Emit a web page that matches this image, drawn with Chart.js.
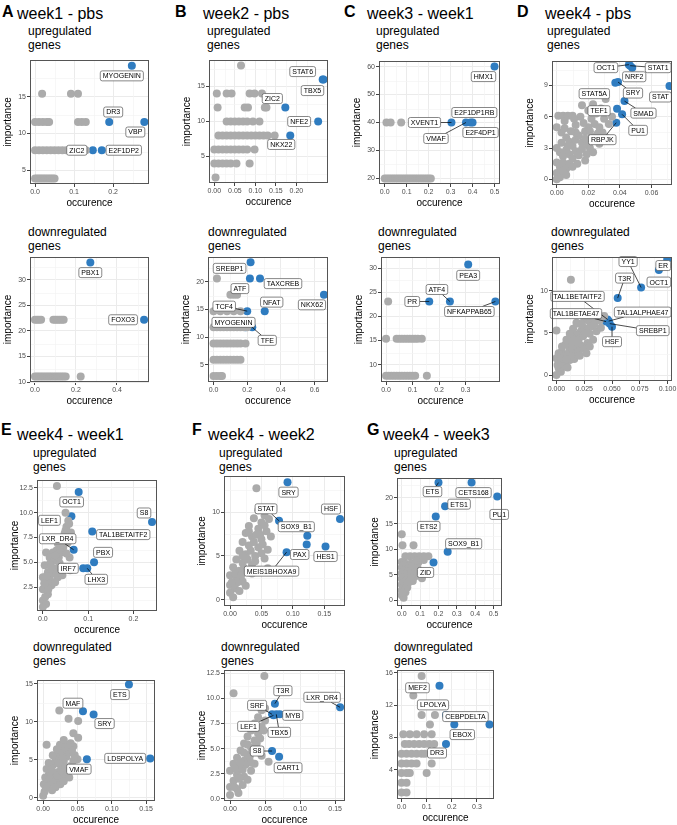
<!DOCTYPE html>
<html>
<head>
<meta charset="utf-8">
<title>importance vs occurence</title>
<script src="https://cdn.jsdelivr.net/npm/chart.js@4.4.1/dist/chart.umd.min.js"></script>
<style>
  body { margin: 0; background: #fff; }
  #fig { position: relative; width: 677px; height: 825px; overflow: hidden; font-family: "Liberation Sans", Arial, sans-serif; color: #000; }
  #fig div { position: absolute; white-space: nowrap; }
  .tag { font-size: 16px; font-weight: bold; line-height: 16px; }
  .ttl { font-size: 16px; line-height: 18px; }
  .sub { font-size: 12px; line-height: 13.5px; }
  canvas { position: absolute; }
</style>
</head>
<body>
<div id="fig"></div>
<script>
// ---------- dados ----------
// pontos cinza = [occurence, importance]; destaques = [nome, occurence, importance]

// A - week1 - pbs
const aUpGrey = [[0,3.85],[0.005,3.85],[0.01,3.85],[0.015,3.85],[0.02,3.85],[0.025,3.85],[0.03,3.85],[0.035,3.85],[0.04,3.85],[0.045,3.85],[0.05,3.85],
  [0,7.7],[0.01,7.7],[0.02,7.7],[0.03,7.7],[0.04,7.7],[0.05,7.7],[0.06,7.7],[0.07,7.7],[0.08,7.7],[0.09,7.7],[0.1,7.7],[0.11,7.7],[0.12,7.7],[0.13,7.7],
  [0,11.55],[0.01,11.55],[0.02,11.55],[0.03,11.55],[0.036,11.55],[0.11,11.55],[0.12,11.55],[0.13,11.55],
  [0.018,15.4],[0.092,15.4],[0.11,15.4]];
const aUpHits = [['MYOGENIN',0.248,19.2],['DR3',0.19,11.55],['VBP',0.28,11.55],['ZIC2',0.148,7.7],['E2F1DP2',0.171,7.7]];
const aDnGrey = [[0,22.2],[0.01,22.2],[0.02,22.2],[0.03,22.2],[0.09,22.2],[0.1,22.2],[0.11,22.2],[0.12,22.2],[0.13,22.2],[0.14,22.2],
  [0,11.1],[0.01,11.1],[0.02,11.1],[0.03,11.1],[0.04,11.1],[0.05,11.1],[0.06,11.1],[0.07,11.1],[0.08,11.1],[0.09,11.1],[0.1,11.1],[0.11,11.1],[0.12,11.1],[0.13,11.1],[0.14,11.1],[0.15,11.1],[0.223,11.1]];
const aDnHits = [['PBX1',0.27,33.4],['FOXO3',0.532,22.2]];

// B - week2 - pbs
const bUpGrey = [[0.003,2],
  [0,4],[0.01,4],[0.02,4],[0.03,4],[0.04,4],[0.054,4],[0.086,4],
  [0,6],[0.01,6],[0.02,6],[0.03,6],[0.04,6],[0.05,6],[0.06,6],[0.07,6],[0.08,6],[0.098,6],
  [0.01,8],[0.02,8],[0.03,8],[0.04,8],[0.05,8],[0.06,8],[0.07,8],[0.08,8],[0.09,8],[0.1,8],[0.11,8],[0.12,8],[0.13,8],[0.147,8],
  [0.03,10],[0.04,10],[0.05,10],[0.06,10],[0.07,10],[0.08,10],[0.094,10],[0.11,10],
  [0.008,12],[0.074,12],[0.082,12],[0.123,12],[0.127,12],
  [0.006,14],[0.03,14],[0.042,14],[0.086,14],[0.098,14],[0.116,14],
  [0.065,18]];
const bUpHits = [['STAT6',0.264,16],['TBX5',0.266,16],['ZIC2',0.173,12],['NFE2',0.253,10],['NKX22',0.185,8]];
const bDnGrey = [[0.02,20.59],[0.1,17.65],[0.12,17.65],[0.14,17.65],
  [0,14.7],[0.04,14.7],[0.08,14.7],[0.12,14.7],[0.16,14.7],
  [0,11.76],[0.02,11.76],[0.04,11.76],[0.06,11.76],[0.08,11.76],[0.1,11.76],[0.12,11.76],[0.14,11.76],[0.16,11.76],[0.18,11.76],[0.2,11.76],
  [0,8.82],[0.02,8.82],[0.04,8.82],[0.06,8.82],[0.08,8.82],[0.1,8.82],[0.12,8.82],[0.14,8.82],[0.16,8.82],[0.19,8.82],
  [0,5.88],[0.02,5.88],[0.04,5.88],[0.06,5.88],[0.08,5.88],[0.1,5.88],[0.12,5.88],[0.14,5.88],[0.16,5.88],
  [0,2.94],[0.02,2.94],[0.04,2.94],[0.05,2.94]];
const bDnHits = [['SREBP1',0.22,23.53],['ATF',0.216,20.59],['TAXCREB',0.276,20.59],['NKX62',0.656,17.65],['TCF4',0.2,14.7],['NFAT',0.304,14.7],['MYOGENIN',0.19,11.76],['TFE',0.23,11.76]];

// C - week3 - week1
const cUpGrey = [[0.008,40],[0.027,40],[0.075,40],[0.169,40],
  [0,20],[0.01,20],[0.02,20],[0.03,20],[0.04,20],[0.05,20],[0.06,20],[0.07,20],[0.08,20],[0.09,20],[0.1,20],[0.11,20],[0.12,20],[0.13,20],[0.14,20],[0.15,20],[0.16,20],[0.17,20],[0.18,20],[0.19,20],[0.2,20],[0.21,20]];
const cUpHits = [['HMX1',0.5,60],['XVENT1',0.304,40],['VMAF',0.37,40],['E2F1DP1RB',0.39,40],['E2F4DP1',0.4,40]];
const cDnGrey = [[0.008,23.08],
  [0,15.38],[0.04,15.38],[0.05,15.38],[0.06,15.38],[0.07,15.38],[0.08,15.38],[0.09,15.38],[0.1,15.38],[0.11,15.38],[0.12,15.38],[0.135,15.38],
  [0,7.69],[0.01,7.69],[0.02,7.69],[0.03,7.69],[0.04,7.69],[0.05,7.69],[0.06,7.69],[0.07,7.69],[0.08,7.69],[0.09,7.69],[0.1,7.69],[0.11,7.69],[0.154,7.69]];
const cDnHits = [['PEA3',0.31,30.77],['ATF4',0.241,23.08],['PR',0.163,23.08],['NFKAPPAB65',0.4125,23.08]];

// D - week4 - pbs
const dUpGrey = [[0.001,6.1],[0.004,6.1],[0.007,6.1],[0.01,6.1],[0.016,7.1],[0.031,7.7],[0.028,6.8],[0.025,6.3],[0.022,5.8],[0.024,5.3],[0.02,5.0],[0.018,4.6],
  [0.027,5.0],[0.03,5.8],[0.033,5.3],[0.029,4.5],[0,5.0],[0.003,4.5],[0.006,4.0],[0.008,3.6],[0.01,3.2],[0.012,3.8],[0.014,4.2],[0.016,3.5],[0.018,3.9],
  [0.02,3.3],[0.022,4.1],[0.025,3.8],[0,3.0],[0.002,2.6],[0.004,2.2],[0.006,2.8],[0.008,2.4],[0.01,2.0],[0.012,2.7],[0.014,2.3],[0.016,2.9],[0,1.6],
  [0.002,1.2],[0.004,1.6],[0.006,1.0],[0.008,1.5],[0.01,1.2],[0,0.6],[0.002,0.2],[0.004,0.8],[0,0],[0.006,0.4],[0.003,3.5],[0.005,4.9],[0.012,5.2],[0.035,6.0],
  [0.015,6.0],[0.012,4.5],[0.009,4.6],[0.017,5.4],[0.021,4.6],[0.026,4.4],[0.019,2.4],[0.021,3.0],[0.013,1.5],[0.007,3.2],[0.011,5.8],[0.005,5.6],
  [0.02,6.6],[0.023,7.2],[0.018,1.8],[0.031,4.0],[0.027,3.4],[0.023,2.6]];
const dUpHits = [['OCT1',0.0457,11.0],['STAT1',0.0465,10.9],['NRF2',0.0478,10.7],['STAT5A',0.0371,9.27],['SRY',0.0388,9.33],['STAT',0.0714,8.95],
  ['SMAD',0.0429,7.5],['TEF1',0.0382,6.77],['PU1',0.0414,6.23],['RBPJK',0.0377,5.43]];
const dDnGrey = [[0,5.3],[0.013,11.3],[0.02,6.1],[0.025,6.6],[0.028,7.0],[0.03,6.3],[0.035,6.5],[0.038,7.1],[0.032,5.8],[0.027,5.5],[0.022,5.2],[0.018,4.8],
  [0.015,4.3],[0.012,4.9],[0.02,4.2],[0.024,4.6],[0.03,4.9],[0.036,5.2],[0.04,5.6],[0.033,4.2],[0.028,3.8],[0.022,3.5],[0.017,3.2],[0.012,3.0],[0.008,3.6],
  [0.005,2.8],[0.01,2.4],[0.015,2.6],[0.02,2.8],[0.025,3.1],[0.03,3.4],[0,2.0],[0.003,1.6],[0.006,2.2],[0.008,1.4],[0.012,1.8],[0.016,1.9],[0.002,0.8],
  [0.004,0.4],[0,0],[0.006,1.0],[0.01,0.9],[0.002,2.6],[0.015,5.5],[0.018,6.2],[0.043,7.0],
  [0.009,4.2],[0.014,3.7],[0.019,3.9],[0.026,5.0],[0.034,6.0],[0.039,6.5],[0.005,3.4],[0.013,2.2],[0.021,2.3],[0.027,2.6],[0.004,2.0],[0.009,1.9],
  [0.001,1.2],[0.023,6.0],[0.031,7.4]];
const dDnHits = [['ER',0.0997,13.7],['OCT1',0.0922,12.45],['YY1',0.0762,10.38],['T3R',0.0551,9.13],['TAL1BETAITF2',0.046,6.6],['TAL1ALPHAE47',0.047,6.4],
  ['TAL1BETAE47',0.0446,6.34],['SREBP1',0.048,6.1],['HSF',0.05,5.74]];

// E - week4 - week1
const eUpGrey = [[0.031,12.7],[0.056,9.2],[0.052,8.6],[0.048,7.9],[0.041,7.4],[0.033,6.9],[0.03,6.2],[0.022,6.0],[0.007,6.0],[0.015,5.5],[0.026,5.2],[0.037,4.9],
  [0.048,4.5],[0.059,5.5],[0.004,4.7],[0.011,4.0],[0.022,3.85],[0.033,3.5],[0,3.5],[0.007,2.8],[0.019,2.7],[0,2.3],[0.011,1.8],[0,1.15],[0.007,0.8],[0,0.5],
  [0.043,3.7],[0.06,4.2],[0.045,6.5],[0.055,7.0],[0.062,8.0],[0.05,10.0],[0.015,4.8],[0.025,4.4],
  [0.005,1.5],[0.012,2.3],[0.016,3.2],[0.027,3.0],[0.03,4.0],[0.035,5.5],[0.04,6.0],[0.018,4.5],[0.008,3.6],[0.003,2.9],[0.028,5.7],[0.038,6.7],
  [0.046,7.3],[0.05,8.2],[0.058,8.9],[0.052,5.9]];
const eUpHits = [['OCT1',0.079,12.1],['LEF1',0.063,9.64],['TAL1BETAITF2',0.109,8.1],['S8',0.241,9.07],['LXR_DR4',0.068,6.27],['PBX',0.113,5.0],['IRF7',0.089,4.4],['LHX3',0.098,4.4]];
const eDnGrey = [[0.0235,11.5],[0.037,10.4],[0.051,10.1],[0.044,8.5],[0.051,7.9],[0.005,7.0],[0.0245,7.0],[0.044,6.8],[0,0.3],[0.002,0.8],[0.004,1.3],[0.001,1.8],
  [0.006,2.2],[0.003,2.7],[0.008,3.0],[0.01,3.4],[0.005,3.8],[0.012,4.0],[0.015,4.4],[0.008,4.6],[0.018,4.9],[0.02,5.3],[0.014,5.6],[0.024,5.8],[0.028,6.1],
  [0.02,6.4],[0.032,6.5],[0.012,2.0],[0.018,2.6],[0.022,3.4],[0.026,4.2],[0.03,4.8],[0.034,5.4],[0.038,6.0],[0.016,3.2],[0.024,2.4],[0.03,3.0],[0.036,3.6],
  [0.04,4.2],[0.05,5.1],[0.038,2.7],[0.04,7.2],
  [0.006,1.5],[0.01,2.6],[0.015,2.0],[0.02,3.0],[0.026,3.6],[0.032,4.0],[0.028,5.2],[0.022,4.6],[0.012,3.7],[0.044,4.9],[0.046,5.6],[0.042,6.2],
  [0.035,7.0],[0.03,7.6],[0.018,1.4],[0.025,1.8],[0.013,1.0],[0.03,2.2]];
const eDnHits = [['ETS',0.125,14.9],['MAF',0.058,11.4],['SRY',0.0735,10.96],['VMAF',0.0637,5.1],['LDSPOLYA',0.156,5.2]];

// F - week4 - week2
const fUpGrey = [[0.042,12.7],[0.045,10.2],[0.055,9.6],[0.062,9.2],[0.038,9.3],[0.05,8.8],[0.03,8.4],[0.045,8.1],[0.058,7.8],[0.065,7.2],[0.025,7.6],[0.035,7.2],
  [0.05,6.9],[0.02,6.6],[0.03,6.2],[0.045,6.0],[0.06,5.7],[0.015,5.6],[0.025,5.2],[0.04,5.0],[0.055,4.7],[0.01,4.6],[0.02,4.2],[0.035,4.0],[0.005,3.7],
  [0.015,3.3],[0.03,3.1],[0,2.8],[0.01,2.4],[0.02,2.1],[0,1.7],[0.008,1.3],[0,0.8],[0.005,0.3],[0.06,3.6],[0.045,3.4],[0.025,1.6],
  [0.008,3.0],[0.012,2.0],[0.018,2.8],[0.022,3.6],[0.028,4.6],[0.033,5.6],[0.038,6.6],[0.042,7.4],[0.048,7.4],[0.052,6.3],[0.04,4.4],[0.05,5.3],
  [0.035,3.0],[0.015,1.0],[0.003,2.0],[0.02,5.0],[0.03,7.8],[0.055,8.5]];
const fUpHits = [['SRY',0.0915,13.4],['STAT',0.078,9.0],['HSF',0.175,9.2],['SOX9_B1',0.123,7.3],['PAX',0.122,6.3],['HES1',0.152,6.07],['MEIS1BHOXA9',0.09,5.43]];
const fDnGrey = [[0.049,12.2],[0.005,10.5],[0.045,8.8],[0.04,8.1],[0.05,7.8],[0.035,7.5],[0.045,7.2],[0.03,6.8],[0.04,6.5],[0.025,6.2],[0.035,5.8],[0.02,5.5],
  [0.03,5.1],[0.015,4.8],[0.025,4.4],[0.01,4.1],[0.02,3.8],[0.005,3.5],[0.015,3.1],[0,2.8],[0.01,2.4],[0.02,2.2],[0.005,1.8],[0,1.2],[0.01,1.0],[0,0.4],
  [0.055,3.7],[0.03,2.8],[0.035,3.5],[0.045,4.3],[0.018,1.4],[0.025,1.9],[0.012,0.6],
  [0.008,3.0],[0.013,2.0],[0.018,2.9],[0.022,3.4],[0.028,4.2],[0.033,4.9],[0.038,5.5],[0.043,6.0],[0.048,6.8],[0.05,9.0],[0.03,3.6],[0.04,4.8],
  [0.006,1.2],[0.015,3.6],[0.02,4.6],[0.025,5.4]];
const fDnHits = [['T3R',0.064,9.46],['LXR_DR4',0.157,9.1],['SRF',0.06,8.4],['LEF1',0.062,8.3],['TBX5',0.066,8.4],['MYB',0.071,8.4],['S8',0.06,4.76],['CART1',0.07,4.19]];

// G - week4 - week3
const gUpGrey = [[0,12.9],[0.004,10.75],[0.064,10.75],[0.02,8.6],[0.045,8.6],[0.07,8.6],[0.095,8.6],[0.12,8.6],[0.145,8.6],
  [0,7.5],[0.015,7.3],[0.03,7.0],[0.05,7.2],[0.07,6.9],[0.09,7.4],[0,6.4],[0.02,6.2],[0.04,6.0],[0.06,6.3],[0.08,5.8],[0.1,5.5],[0,5.3],[0.015,5.0],
  [0.03,4.8],[0.05,5.1],[0.07,4.6],[0.09,4.9],[0,4.2],[0.02,3.9],[0.04,3.6],[0.06,3.8],[0,3.1],[0.015,2.8],[0.03,2.5],[0,2.0],[0.02,1.6],[0,1.0],[0.01,0.5],[0.11,4.3],
  [0.01,6.8],[0.025,6.7],[0.04,6.6],[0.055,6.7],[0.01,5.8],[0.03,5.6],[0.05,5.8],[0.07,5.5],[0.01,4.5],[0.03,4.2],[0.05,4.3],[0.01,3.5],[0.03,3.3],
  [0.01,2.4],[0.02,2.2],[0.005,1.5],[0.085,6.4],[0.08,7.8],[0.1,8.1],[0.12,7.9]];
const gUpHits = [['ETS',0.2,23.0],['CETS168',0.38,23.0],['ETS1',0.236,18.4],['ETS2',0.185,16.4],['PU1',0.52,20.3],['SOX9_B1',0.25,9.5],['ZID',0.173,7.4]];
const gDnGrey = [[0.08,15.6],[0.047,13.2],[0.08,10.8],[0.133,10.8],[0.113,9.6],
  [0.007,8.4],[0.033,8.4],[0.06,8.4],[0.09,8.4],[0.12,8.4],
  [0.013,7.2],[0.03,7.2],[0.05,7.2],[0.07,7.2],[0.09,7.2],[0.11,7.2],[0.13,7.2],
  [0,6.0],[0.02,6.0],[0.04,6.0],[0.06,6.0],[0.08,6.0],[0.093,6.0],
  [0,4.8],[0.02,4.8],[0.04,4.8],[0.06,4.8],[0.12,4.8],
  [0,3.6],[0.02,3.6],[0.033,3.6],[0.1,3.6],[0,2.4],[0.02,2.4],[0,1.2],[0.02,1.2]];
const gDnHits = [['MEF2',0.151,14.4],['LPOLYA',0.177,10.8],['DR3',0.177,7.2],['EBOX',0.21,9.6],['CEBPDELTA',0.35,9.6]];

// ---------- posicao dos rotulos (deslocamento em px a partir do ponto; 3o item = desenha segmento) ----------
const nudge = {
  aUp: { MYOGENIN:[-10,10], DR3:[4,-10], VBP:[-9,10], ZIC2:[-16,0], E2F1DP2:[22,0] },
  aDn: { PBX1:[0,10], FOXO3:[-21,0] },
  bUp: { STAT6:[-20,-8], TBX5:[-11,11], ZIC2:[-13,-9], NFE2:[-19,0], NKX22:[-9,9] },
  bDn: { SREBP1:[-21,6], ATF:[-10,10], TAXCREB:[23,5], NKX62:[-12,10], TCF4:[-23,-5,1], NFAT:[7,-9], MYOGENIN:[-12,-5], TFE:[15,13,1] },
  cUp: { HMX1:[-11,10], XVENT1:[-27,0,1], E2F1DP1RB:[4,-10], VMAF:[-30,16,1], E2F4DP1:[8,10] },
  cDn: { PEA3:[0,11], ATF4:[-13,-12,1], PR:[-17,0,1], NFKAPPAB65:[-26,10,1] },
  dUp: { OCT1:[-23,3,1], NRF2:[2,9], STAT1:[28,2,1], STAT5A:[-21,11], SRY:[15,11,1], STAT:[-9,11], SMAD:[19,12,1], TEF1:[-18,2], PU1:[16,16,1], RBPJK:[-14,17,1] },
  dDn: { ER:[-4,6], OCT1:[0,12], YY1:[-13,-26,1], T3R:[7,-20,1], TAL1BETAITF2:[-30,-23,1], TAL1ALPHAE47:[34,-9,1], TAL1BETAE47:[-30,-8,1], SREBP1:[43,7,1], HSF:[0,15,1] },
  eUp: { OCT1:[-7,10], LEF1:[-22,4], TAL1BETAITF2:[31,3], S8:[-8,-9], LXR_DR4:[-16,-11,1], PBX:[9,-10], IRF7:[-15,0], LHX3:[9,11,1] },
  eDn: { ETS:[-9,10], MAF:[-10,-8], SRY:[11,9], VMAF:[-8,10], LDSPOLYA:[-25,0] },
  fUp: { SRY:[1,10], STAT:[-13,-12,1], HSF:[-9,-10], SOX9_B1:[-11,-9], PAX:[-7,10], HES1:[0,10], MEIS1BHOXA9:[-15,19,1] },
  fDn: { T3R:[8,-13,1], LXR_DR4:[-18,-10,1], SRF:[-15,-9,1], LEF1:[-25,11,1], TBX5:[3,18,1], MYB:[13,1], S8:[-15,0,1], CART1:[9,11] },
  gUp: { ETS:[-6,9,1], CETS168:[2,10], ETS1:[14,-2], ETS2:[-7,10], PU1:[2,18], SOX9_B1:[16,-8], ZID:[-8,10] },
  gDn: { MEF2:[-22,2], LPOLYA:[-13,-10], DR3:[-9,9], EBOX:[8,10], CEBPDELTA:[-24,-8] }
};

// ---------- layout dos paineis ----------
const FONTE = '"Liberation Sans", Arial, sans-serif';
const CINZA = '#ABABAB', AZUL = '#2F7CC0';

const paineis = [
  { id:'aUp', rect:[30,60,149,184],  xLim:[-0.013,0.292], xTicks:[0,0.1,0.2], xDig:1, yLim:[3.1,20], yTicks:[5,10,15], yDig:0, grey:aUpGrey, hits:aUpHits },
  { id:'aDn', rect:[30,257,149,382], xLim:[-0.024,0.556], xTicks:[0,0.2,0.4], xDig:1, yLim:[10,34.5], yTicks:[10,15,20,25,30], yDig:0, grey:aDnGrey, hits:aDnHits },
  { id:'bUp', rect:[209,60,328,183], xLim:[-0.013,0.277], xTicks:[0,0.05,0.1,0.15,0.2], xDig:2, yLim:[1.2,18.8], yTicks:[5,10,15], yDig:0, grey:bUpGrey, hits:bUpHits },
  { id:'bDn', rect:[208,257,328,382], xLim:[-0.033,0.68], xTicks:[0,0.2,0.4,0.6], xDig:1, yLim:[1.87,24.5], yTicks:[5,10,15,20], yDig:0, grey:bDnGrey, hits:bDnHits },
  { id:'cUp', rect:[379,61,500,184], xLim:[-0.026,0.525], xTicks:[0,0.1,0.2,0.3,0.4,0.5], xDig:1, yLim:[18,62], yTicks:[20,30,40,50,60], yDig:0, grey:cUpGrey, hits:cUpHits },
  { id:'cDn', rect:[381,257,500,382], xLim:[-0.019,0.43], xTicks:[0,0.1,0.2,0.3], xDig:1, yLim:[6.4,32.3], yTicks:[10,15,20,25,30], yDig:0, grey:cDnGrey, hits:cDnHits },
  { id:'dUp', rect:[552,61,672,185], xLim:[-0.003,0.073], xTicks:[0,0.02,0.04,0.06], xDig:2, yLim:[-0.55,11.35], yTicks:[0,3,6,9], yDig:0, grey:dUpGrey, hits:dUpHits },
  { id:'dDn', rect:[552,257,672,381], xLim:[-0.004,0.104], xTicks:[0,0.025,0.05,0.075,0.1], xDig:3, yLim:[-0.7,14], yTicks:[0,5,10], yDig:0, grey:dDnGrey, hits:dDnHits },
  { id:'eUp', rect:[37,480,157,611], xLim:[-0.013,0.252], xTicks:[0,0.1,0.2], xDig:1, yLim:[0.1,13.3], yTicks:[2.5,5,7.5,10,12.5], yDig:1, grey:eUpGrey, hits:eUpHits },
  { id:'eDn', rect:[37,680,155,801], xLim:[-0.009,0.163], xTicks:[0,0.05,0.1,0.15], xDig:2, yLim:[-0.4,15.5], yTicks:[0,5,10,15], yDig:0, grey:eDnGrey, hits:eDnHits },
  { id:'fUp', rect:[224,476,345,606], xLim:[-0.0096,0.183], xTicks:[0,0.05,0.1,0.15], xDig:2, yLim:[-0.7,14.1], yTicks:[0,5,10], yDig:0, grey:fUpGrey, hits:fUpHits },
  { id:'fDn', rect:[224,670,345,801], xLim:[-0.0086,0.164], xTicks:[0,0.05,0.1,0.15], xDig:2, yLim:[-0.2,12.8], yTicks:[0,2.5,5,7.5,10,12.5], yDig:1, grey:fDnGrey, hits:fDnHits },
  { id:'gUp', rect:[397,478,502,606], xLim:[-0.026,0.546], xTicks:[0,0.1,0.2,0.3,0.4,0.5], xDig:1, yLim:[-1.1,23.9], yTicks:[0,5,10,15,20], yDig:0, grey:gUpGrey, hits:gUpHits },
  { id:'gDn', rect:[397,670,494,799], xLim:[-0.018,0.368], xTicks:[0,0.1,0.2,0.3], xDig:1, yLim:[0.4,16.35], yTicks:[4,8,12,16], yDig:0, grey:gDnGrey, hits:gDnHits }
];

// letra, titulo, x da letra, x do titulo, topo da letra, topo do titulo
const cabecalhos = [
  ['A','week1 - pbs',2,17,4,5], ['B','week2 - pbs',175,203,4,5], ['C','week3 - week1',344,367,4,5], ['D','week4 - pbs',517,545,4,5],
  ['E','week4 - week1',1,17,422,426], ['F','week4 - week2',192,208,422,426], ['G','week4 - week3',367,383,422,426]
];
// subtitulos: x, topo
const subtitulos = {
  aUp:[28,25], aDn:[28,226], bUp:[207,25], bDn:[208,226], cUp:[376,25], cDn:[378,226], dUp:[547,25], dDn:[551,226],
  eUp:[33,447], eDn:[33,641], fUp:[219,447], fDn:[221,641], gUp:[394,447], gDn:[394,641]
};

const fig = document.getElementById('fig');

function addTexto(cls, html, x, y) {
  const d = document.createElement('div');
  d.className = cls; d.innerHTML = html;
  d.style.left = x + 'px'; d.style.top = y + 'px';
  fig.appendChild(d);
}

cabecalhos.forEach(c => {
  addTexto('tag', c[0], c[2], c[4]);
  addTexto('ttl', c[1], c[3], c[5]);
});
Object.keys(subtitulos).forEach(k => {
  const s = subtitulos[k];
  addTexto('sub', (k.endsWith('Up') ? 'upregulated' : 'downregulated') + '<br>genes', s[0], s[1]);
});

// grade menor + moldura do painel
const moldura = {
  id: 'moldura',
  beforeDatasetsDraw(chart) {
    const { ctx, chartArea: a, scales } = chart;
    ctx.save();
    ctx.strokeStyle = '#F3F3F3';
    ctx.lineWidth = 0.7;
    ['x', 'y'].forEach(k => {
      const s = scales[k], t = s.ticks.map(o => o.value);
      if (t.length < 2) return;
      const passo = t[1] - t[0];
      for (let v = t[0] - passo / 2; v <= s.max; v += passo) {
        if (v < s.min) continue;
        const p = Math.round(s.getPixelForValue(v)) + 0.5;
        ctx.beginPath();
        if (k === 'x') { ctx.moveTo(p, a.top); ctx.lineTo(p, a.bottom); }
        else { ctx.moveTo(a.left, p); ctx.lineTo(a.right, p); }
        ctx.stroke();
      }
    });
    ctx.restore();
  },
  afterDraw(chart) {
    const a = chart.chartArea, c = chart.ctx;
    c.save();
    c.strokeStyle = '#555';
    c.lineWidth = 1;
    c.strokeRect(Math.round(a.left) + 0.5, Math.round(a.top) + 0.5, Math.round(a.right - a.left) - 1, Math.round(a.bottom - a.top) - 1);
    c.restore();
  }
};

// rotulos com caixa (estilo ggrepel)
function rotulosPara(p) {
  return {
    id: 'rotulos',
    afterDatasetsDraw(chart) {
      const c = chart.ctx, sx = chart.scales.x, sy = chart.scales.y;
      const nd = nudge[p.id] || {};
      c.save();
      c.font = '7px ' + FONTE;
      p.hits.forEach(h => {
        const px = sx.getPixelForValue(h[1]), py = sy.getPixelForValue(h[2]);
        const n = nd[h[0]] || [0, -10];
        const dx = n[0], dy = n[1];
        const bx = px + dx, by = py + dy;
        const w = c.measureText(h[0]).width + 5, alt = 10;
        if (n[2]) {
          const t = Math.min((w / 2) / Math.max(Math.abs(dx), 1e-6), (alt / 2) / Math.max(Math.abs(dy), 1e-6));
          c.beginPath();
          c.moveTo(px, py);
          c.lineTo(bx - dx * t, by - dy * t);
          c.strokeStyle = '#000';
          c.lineWidth = 0.7;
          c.stroke();
        }
        c.beginPath();
        c.roundRect(bx - w / 2, by - alt / 2, w, alt, 2);
        c.fillStyle = '#fff';
        c.fill();
        c.strokeStyle = '#555';
        c.lineWidth = 0.7;
        c.stroke();
        c.fillStyle = '#000';
        c.textAlign = 'center';
        c.textBaseline = 'middle';
        c.fillText(h[0], bx, by + 0.5);
      });
      c.restore();
    }
  };
}

function criarPainel(p) {
  const [L, T, R, B] = p.rect;
  const padL = 28, padT = 6, padR = 12, padB = 25;
  const cv = document.createElement('canvas');
  cv.width = padL + (R - L) + padR;
  cv.height = padT + (B - T) + padB;
  cv.style.left = (L - padL) + 'px';
  cv.style.top = (T - padT) + 'px';
  fig.appendChild(cv);

  const eixo = (lim, ticks, dig, titulo, ehX) => ({
    type: 'linear',
    min: lim[0],
    max: lim[1],
    afterBuildTicks: s => { s.ticks = ticks.map(v => ({ value: v })); },
    afterFit: s => { if (ehX) s.height = padB; else s.width = padL; },
    ticks: { callback: v => Number(v).toFixed(dig), color: '#4D4D4D', font: { size: 7, family: FONTE }, padding: 1, autoSkip: false, maxRotation: 0 },
    grid: { color: '#EBEBEB', lineWidth: 1, tickColor: '#444', tickLength: 3 },
    border: { display: false },
    title: { display: true, text: titulo, color: '#000', font: { size: 10, family: FONTE }, padding: 0 }
  });

  new Chart(cv, {
    type: 'scatter',
    data: {
      datasets: [
        { data: p.grey, pointBackgroundColor: CINZA, pointRadius: 4, pointBorderWidth: 0 },
        { data: p.hits.map(h => ({ x: h[1], y: h[2] })), pointBackgroundColor: AZUL, pointRadius: 4, pointBorderWidth: 0 }
      ]
    },
    options: {
      responsive: false,
      animation: false,
      devicePixelRatio: 1,
      events: [],
      layout: { padding: { left: 0, top: padT, right: padR, bottom: 0 } },
      plugins: { legend: { display: false }, tooltip: { enabled: false } },
      scales: {
        x: eixo(p.xLim, p.xTicks, p.xDig, 'occurence', true),
        y: eixo(p.yLim, p.yTicks, p.yDig, 'importance', false)
      }
    },
    plugins: [moldura, rotulosPara(p)]
  });
}

paineis.forEach(criarPainel);
</script>
</body>
</html>
